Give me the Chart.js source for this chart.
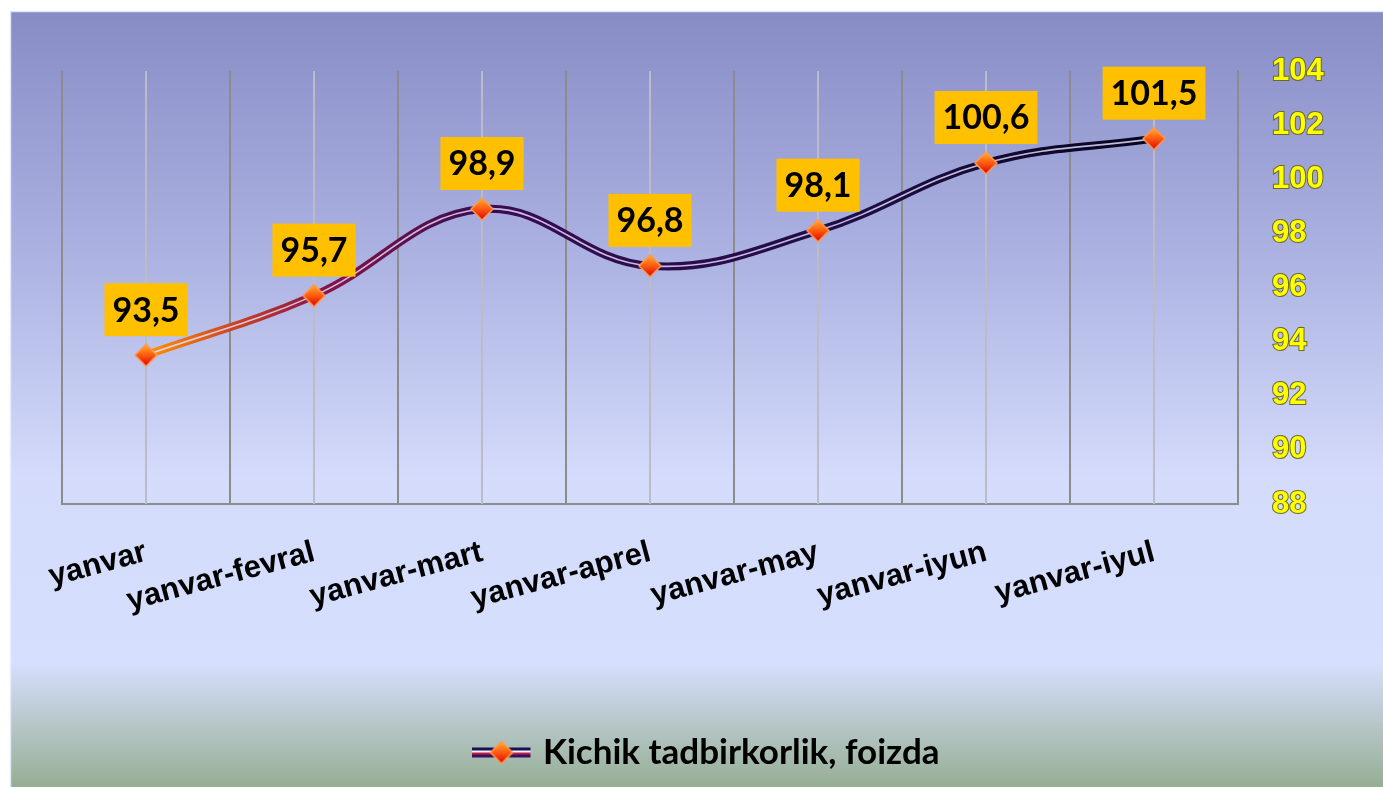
<!DOCTYPE html>
<html><head><meta charset="utf-8">
<script src="https://cdn.jsdelivr.net/npm/chart.js@4.4.0/dist/chart.umd.min.js"></script>
<style>html,body{margin:0;padding:0;background:#fff;overflow:hidden}#wrap{position:relative;width:1383px;height:787px}</style>
</head><body><div id="wrap"><canvas id="c" width="1383" height="787"></canvas></div>
<script>
const categories = ['yanvar','yanvar-fevral','yanvar-mart','yanvar-aprel','yanvar-may','yanvar-iyun','yanvar-iyul'];
const values = [93.5, 95.7, 98.9, 96.8, 98.1, 100.6, 101.5];
const valueLabels = ['93,5','95,7','98,9','96,8','98,1','100,6','101,5'];
const yTicks = [88, 90, 92, 94, 96, 98, 100, 102, 104];
const seriesName = 'Kichik tadbirkorlik, foizda';

function drawDiamond(g, cx, cy, r){
  const gr = g.createLinearGradient(0, cy - r, 0, cy + r);
  gr.addColorStop(0, '#ffb030'); gr.addColorStop(0.5, '#ff5a10'); gr.addColorStop(1, '#d80000');
  g.beginPath(); g.moveTo(cx, cy - r); g.lineTo(cx + r, cy); g.lineTo(cx, cy + r); g.lineTo(cx - r, cy); g.closePath();
  g.fillStyle = gr; g.fill(); g.lineWidth = 1.5; g.strokeStyle = '#ff9a50'; g.stroke();
}
function makeDiamond(size){
  const c = document.createElement('canvas'); c.width = size; c.height = size;
  drawDiamond(c.getContext('2d'), size/2, size/2, size/2 - 1);
  return c;
}
function makeLegendImg(){
  // marker occupies the left 58px; the rest is transparent so the label text sits close to it
  const c = document.createElement('canvas'); c.width = 86; c.height = 26;
  const g = c.getContext('2d');
  g.fillStyle = '#1a1050'; g.fillRect(0, 8, 58, 3);
  g.fillStyle = '#f0f0ff'; g.fillRect(0, 11, 58, 2);
  g.fillStyle = '#c02040'; g.fillRect(0, 13, 58, 2);
  g.fillStyle = '#3a1060'; g.fillRect(0, 15, 58, 3);
  drawDiamond(g, 29, 13, 11);
  return c;
}
const diamondImg = makeDiamond(24);
const legendImg = makeLegendImg();

const bgPlugin = {
  id: 'bg',
  beforeDraw(chart){
    const {ctx, width, height} = chart;
    ctx.save();
    ctx.fillStyle = '#ffffff'; ctx.fillRect(0, 0, width, height);
    const g = ctx.createLinearGradient(0, 11, 0, height);
    g.addColorStop(0, '#888cc6');
    g.addColorStop(0.3, '#aab0e0');
    g.addColorStop(0.6, '#d4dbfb');
    g.addColorStop(0.84, '#d6dffd');
    g.addColorStop(1, '#96ae93');
    ctx.fillStyle = g; ctx.fillRect(10, 11, width - 10, height - 11);
    ctx.strokeStyle = 'rgba(235,238,255,0.9)'; ctx.lineWidth = 1.5;
    ctx.strokeRect(10.5, 11.5, width, height);
    ctx.restore();
  }
};
const centerLines = {
  id: 'centerLines',
  beforeDatasetsDraw(chart){
    const {ctx, chartArea} = chart; const xs = chart.scales.x;
    ctx.save(); ctx.strokeStyle = '#bcbcc6'; ctx.lineWidth = 2;
    categories.forEach((c, i) => {
      const x = Math.round(xs.getPixelForValue(i));
      ctx.beginPath(); ctx.moveTo(x, chartArea.top); ctx.lineTo(x, chartArea.bottom); ctx.stroke();
    });
    ctx.restore();
  }
};
const valueBoxes = {
  id: 'valueBoxes',
  afterDatasetsDraw(chart){
    const {ctx} = chart; const meta = chart.getDatasetMeta(2);
    ctx.save();
    ctx.font = 'bold 34px Lato';
    ctx.textAlign = 'center'; ctx.textBaseline = 'middle';
    meta.data.forEach((pt, i) => {
      const t = valueLabels[i]; const w = ctx.measureText(t).width + 16; const h = 53;
      const bx = pt.x - w/2, by = pt.y - 19 - h;
      ctx.fillStyle = '#ffc000'; ctx.fillRect(bx, by, w, h);
      ctx.fillStyle = '#000'; ctx.fillText(t, pt.x, by + h/2 + 1);
    });
    ctx.restore();
  }
};

function lineGradient(context){
  const ch = context.chart; if (!ch.chartArea) return '#300a50';
  const xs = ch.scales.x;
  const x0 = xs.getPixelForValue(0), x1 = xs.getPixelForValue(values.length - 1);
  const g = ch.ctx.createLinearGradient(x0, 0, x1, 0);
  g.addColorStop(0, '#ff9400');
  g.addColorStop(0.08, '#d04a22');
  g.addColorStop(0.17, '#8a1448');
  g.addColorStop(0.33, '#3a0c52');
  g.addColorStop(0.7, '#1e0e46');
  g.addColorStop(1, '#06061f');
  return g;
}

new Chart(document.getElementById('c'), {
  type: 'line',
  data: {
    labels: categories,
    datasets: [
      { label: seriesName, data: values, borderColor: lineGradient, borderWidth: 8, tension: 0.4, pointRadius: 0, order: 3, fill: false },
      { label: 'hl', data: values, borderColor: 'rgba(225,220,250,0.85)', borderWidth: 1.6, tension: 0.4, pointRadius: 0, order: 2, fill: false },
      { label: 'pts', data: values, showLine: false, pointStyle: diamondImg, pointRadius: 12, order: 1 }
    ]
  },
  options: {
    responsive: false, animation: false,
    layout: { padding: { top: 71, left: 62, right: 0, bottom: 7 } },
    plugins: {
      tooltip: { enabled: false },
      legend: {
        position: 'bottom',
        labels: {
          usePointStyle: true, pointStyleWidth: 20, color: '#000', padding: 10,
          font: { family: 'Lato', weight: 'bold', size: 35 },
          generateLabels(){ return [{ text: seriesName, pointStyle: legendImg, fillStyle: '#000', strokeStyle: '#000', lineWidth: 0, hidden: false, datasetIndex: 0, fontColor: '#000' }]; }
        }
      }
    },
    scales: {
      x: {
        type: 'category', offset: true,
        grid: { display: true, offset: true, color: '#8c8c8c', lineWidth: 2, drawTicks: false },
        border: { display: true, color: '#8c8c8c', width: 2 },
        ticks: { color: '#000', font: { family: 'Liberation Sans', weight: 'bold', size: 31 }, maxRotation: 15, minRotation: 15, padding: 30, autoSkip: false },
        afterFit(s){ s.height = 221; }
      },
      y: {
        position: 'right', min: 88, max: 104,
        afterBuildTicks(s){ s.ticks = yTicks.map(v => ({ value: v })); },
        grid: { display: false },
        border: { display: true, color: '#8c8c8c', width: 2 },
        ticks: { color: '#ffff00', font: { family: 'Liberation Sans', weight: 'bold', size: 31 }, padding: 26, textStrokeColor: '#6a6a28', textStrokeWidth: 2 },
        afterFit(s){ s.width = 145; }
      }
    }
  },
  plugins: [bgPlugin, centerLines, valueBoxes]
});
</script></body></html>
